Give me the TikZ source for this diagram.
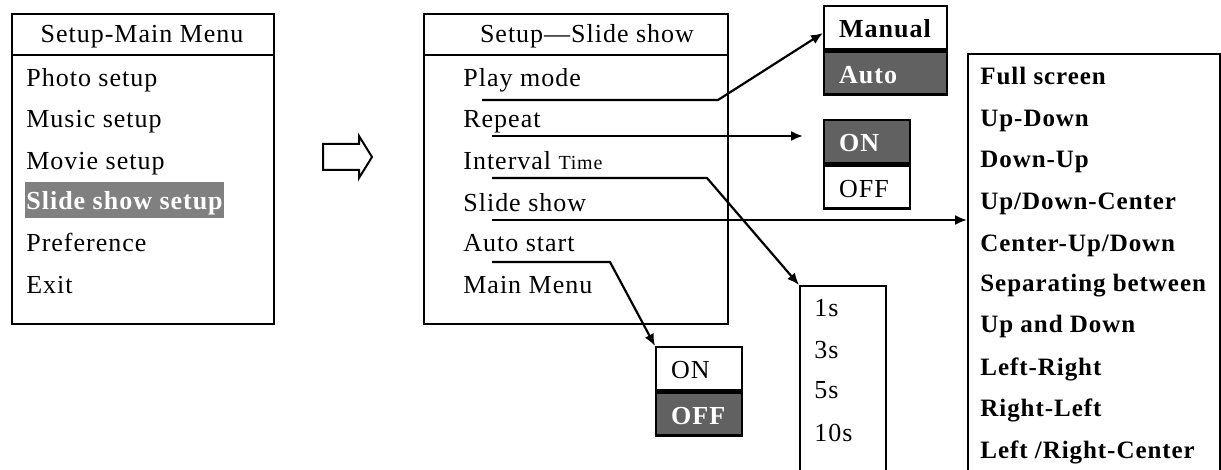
\documentclass[tikz,border=0pt]{standalone}
\usepackage{fontspec}
\setmainfont{Liberation Serif}[LetterSpace=3.8]
\usetikzlibrary{arrows.meta}
\tikzset{>={Latex[length=6pt,width=5pt]}}
\definecolor{hilite}{gray}{0.5}
\definecolor{cellgray}{gray}{0.38}

\begin{document}
\begin{tikzpicture}[x=0.5pt, y=-0.5pt,
    every node/.style={font=\fontsize{13}{15}\selectfont},
    box/.style={draw, line width=1.2pt, anchor=north west, inner sep=0pt},
    item/.style={anchor=base west, inner sep=0pt},
    cell/.style={draw, line width=1.2pt, anchor=north west, inner xsep=7.5pt, inner ysep=0pt,
                 minimum height=21.5pt, text height=11pt, text depth=1pt, align=left},
    dark/.style={fill=cellgray, text=white, font=\fontsize{13}{15}\selectfont\bfseries},
    conn/.style={line width=1.1pt, ->}]
    \useasboundingbox (0,0) rectangle (1221,470);

    % main menu
    \node[box, minimum width=131pt, minimum height=155pt] (mainbox) at (11,13) {};
    \draw[line width=1.2pt] (mainbox.north west) ++(0,42) -- ++(262,0);
    \node[anchor=base, inner sep=0pt] (mainhead) at (142,43) {Setup-Main Menu};
    \node[item] (photo) at (26,87) {Photo setup};
    \node[item] (music) at (26,128) {Music setup};
    \node[item] (movie) at (26,170) {Movie setup};
    \node[item, fill=hilite, text=white, inner xsep=0.5pt, text height=14pt, text depth=4pt,
          font=\fontsize{13}{15}\selectfont\bfseries] (slidesetup) at (25,210) {Slide show setup};
    \node[item] (pref) at (26,252) {Preference};
    \node[item] (exit) at (26,293) {Exit};

    % block arrow
    \draw[line width=1pt] (323,144) -- (359,144) -- (359,136) -- (372,157) -- (359,178)
        -- (359,170) -- (323,170) -- cycle;

    % slide show menu
    \node[box, minimum width=152pt, minimum height=155pt] (slidebox) at (423,13) {};
    \draw[line width=1.2pt] (slidebox.north west) ++(0,42) -- ++(304,0);
    \node[anchor=base, inner sep=0pt] (slidehead) at (587,43) {Setup---Slide show};
    \node[item] (play) at (463,87) {Play mode};
    \node[item] (repeat) at (463,128) {Repeat};
    \node[item] (interval) at (463,170) {Interval {\fontsize{10}{12}\selectfont Time}};
    \node[item] (slideshow) at (463,212) {Slide show};
    \node[item] (autostart) at (463,252) {Auto start};
    \node[item] (mainmenu) at (463,293) {Main Menu};

    % play mode
    \node[cell, text width=46.5pt, font=\fontsize{13}{15}\selectfont\bfseries] (manual) at (823,5) {Manual};
    \node[cell, dark, text width=46.5pt] (auto) at (manual.south west) {Auto};

    % repeat
    \node[cell, dark, text width=28pt] (repon) at (823,119) {ON};
    \node[cell, text width=28pt] (repoff) at (repon.south west) {OFF};

    % interval time
    \node[box, minimum width=43pt, minimum height=120pt] (timebox) at (799,285) {};
    \node[item] (t1) at (814,316) {1s};
    \node[item] (t3) at (814,358) {3s};
    \node[item] (t5) at (814,398) {5s};
    \node[item] (t10) at (814,441) {10s};

    % auto start
    \node[cell, text width=28pt] (auton) at (655,346) {ON};
    \node[cell, dark, text width=28pt] (autooff) at (auton.south west) {OFF};

    % slide show effects
    \node[box, minimum width=126pt, minimum height=220pt] (effects) at (967,53) {};
    \begin{scope}[every node/.style={font=\fontsize{12.5}{14}\selectfont\bfseries}]
    \node[item] (e1) at (980,85) {Full screen};
    \node[item] (e2) at (980,127) {Up-Down};
    \node[item] (e3) at (980,168) {Down-Up};
    \node[item] (e4) at (980,210) {Up/Down-Center};
    \node[item] (e5) at (980,252) {Center-Up/Down};
    \node[item] (e6) at (980,292) {Separating between};
    \node[item] (e7) at (980,333) {Up and Down};
    \node[item] (e8) at (980,375) {Left-Right};
    \node[item] (e9) at (980,416) {Right-Left};
    \node[item] (e10) at (980,458) {Left /Right-Center};
    \end{scope}

    % connectors
    \coordinate (playS) at (482,100);
    \coordinate (repeatS) at (492,136);
    \coordinate (repeatE) at (803,136);
    \coordinate (intS) at (492,178);
    \coordinate (showS) at (492,220);
    \coordinate (autoS) at (492,262);
    \coordinate (manualIn) at (823,33);
    \draw[conn] (playS) -- ++(236,0) -- (manualIn);
    \draw[conn] (repeatS) -- (repeatE);
    \draw[conn] (intS) -- ++(215,0) -- (timebox.north west);
    \draw[conn] (showS) -- (effects.west |- showS);
    \draw[conn] (autoS) -- ++(118,0) -- (auton.north west);
\end{tikzpicture}
\end{document}
